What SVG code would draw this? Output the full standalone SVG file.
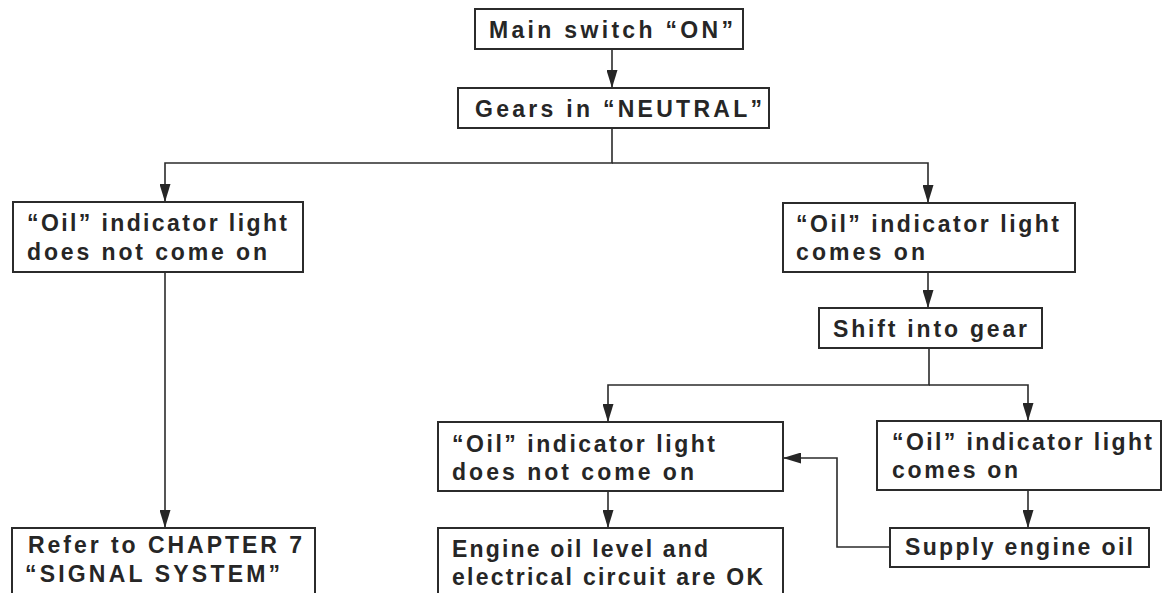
<svg xmlns="http://www.w3.org/2000/svg" width="1163" height="593" viewBox="0 0 1163 593">
<style>
.box{fill:#fff;stroke:#2b2b2b;stroke-width:2}
.t{font-family:"Liberation Sans",Arial,sans-serif;font-weight:bold;font-size:23px;fill:#262626}
.c{fill:none;stroke:#2b2b2b;stroke-width:1.6}
</style>
<defs>
<marker id="ah" viewBox="0 0 18 11" refX="18" refY="5.5" markerWidth="18" markerHeight="11" markerUnits="userSpaceOnUse" orient="auto">
<path d="M0,0 L18,5.5 L0,11 z" fill="#262626"/>
</marker>
</defs>
<rect width="1163" height="593" fill="#fff"/>
<g id="connectors">
<path class="c" d="M612,49 V88" marker-end="url(#ah)"/>
<path class="c" d="M612,128 V163 H165 V202" marker-end="url(#ah)"/>
<path class="c" d="M612,163 H928 V203" marker-end="url(#ah)"/>
<path class="c" d="M165,272 V528" marker-end="url(#ah)"/>
<path class="c" d="M928,272 V308" marker-end="url(#ah)"/>
<path class="c" d="M929,348 V385 H608 V422" marker-end="url(#ah)"/>
<path class="c" d="M929,385 H1028 V421" marker-end="url(#ah)"/>
<path class="c" d="M608,491 V528" marker-end="url(#ah)"/>
<path class="c" d="M1028,490 V528" marker-end="url(#ah)"/>
<path class="c" d="M890,547 H837 V458 H783" marker-end="url(#ah)"/>
</g>
<g id="n1"><rect class="box" x="475" y="9" width="268" height="40"/>
<text class="t" x="489" y="38" textLength="244">Main switch “ON”</text></g>
<g id="n2"><rect class="box" x="458" y="88" width="311" height="40"/>
<text class="t" x="475" y="117" textLength="287">Gears in “NEUTRAL”</text></g>
<g id="n3"><rect class="box" x="13" y="202" width="290" height="70"/>
<text class="t" x="27" y="231" textLength="260">“Oil” indicator light</text>
<text class="t" x="27" y="260" textLength="240">does not come on</text></g>
<g id="n4"><rect class="box" x="783" y="203" width="292" height="69"/>
<text class="t" x="796" y="232" textLength="263">“Oil” indicator light</text>
<text class="t" x="796" y="260" textLength="129">comes on</text></g>
<g id="n5"><rect class="box" x="819" y="308" width="223" height="40"/>
<text class="t" x="833" y="337" textLength="194">Shift into gear</text></g>
<g id="n6"><rect class="box" x="438" y="422" width="345" height="69"/>
<text class="t" x="452" y="452" textLength="263">“Oil” indicator light</text>
<text class="t" x="452" y="480" textLength="242">does not come on</text></g>
<g id="n7"><rect class="box" x="877" y="421" width="284" height="69"/>
<text class="t" x="892" y="450" textLength="260">“Oil” indicator light</text>
<text class="t" x="892" y="478" textLength="126">comes on</text></g>
<g id="n8"><rect class="box" x="438" y="528" width="345" height="75"/>
<text class="t" x="452" y="557" textLength="256">Engine oil level and</text>
<text class="t" x="452" y="585" textLength="311">electrical circuit are OK</text></g>
<g id="n9"><rect class="box" x="890" y="528" width="259" height="39"/>
<text class="t" x="905" y="555" textLength="228">Supply engine oil</text></g>
<g id="n10"><rect class="box" x="12" y="528" width="303" height="75"/>
<text class="t" x="28" y="553" textLength="274">Refer to CHAPTER 7</text>
<text class="t" x="25" y="582" textLength="255">“SIGNAL SYSTEM”</text></g>
</svg>
